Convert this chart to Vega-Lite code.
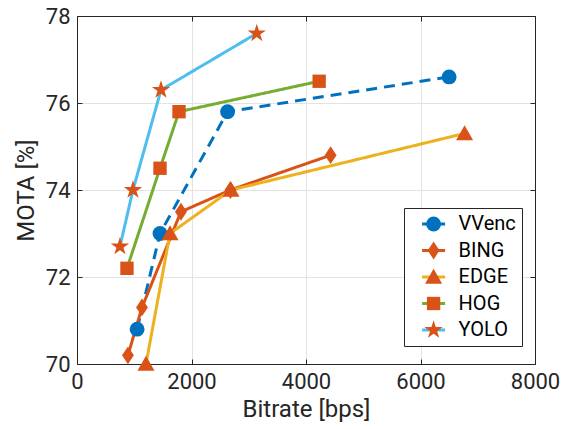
{
  "$schema": "https://vega.github.io/schema/vega-lite/v6.json",
  "width": 458,
  "height": 348,
  "autosize": {"type": "none"},
  "padding": {"left": 77, "top": 16, "right": 45, "bottom": 65},
  "background": "white",
  "config": {
    "font": "Roboto",
    "view": {"stroke": "#262626", "strokeWidth": 1},
    "axis": {
      "domainColor": "#262626",
      "tickColor": "#262626",
      "labelColor": "#262626",
      "titleColor": "#262626",
      "labelFont": "Roboto",
      "titleFont": "Roboto",
      "labelFontSize": 22,
      "titleFontSize": 24,
      "titleFontWeight": "normal",
      "gridColor": "#e3e3e3",
      "gridWidth": 1,
      "tickSize": -5,
      "tickWidth": 1,
      "labelPadding": 12
    }
  },
  "resolve": {"axis": {"x": "independent", "y": "independent"}},
  "data": {
    "values": [
      {"method": "VVenc", "marker": "VVenc", "bitrate": 1050, "mota": 70.8},
      {"method": "VVenc", "marker": "VVenc", "bitrate": 1450, "mota": 73.0},
      {"method": "VVenc", "marker": "VVenc", "bitrate": 2630, "mota": 75.8},
      {"method": "VVenc", "marker": "VVenc", "bitrate": 6500, "mota": 76.6},
      {"method": "BING", "marker": "BING", "bitrate": 890, "mota": 70.2},
      {"method": "BING", "marker": "BING", "bitrate": 1135, "mota": 71.3},
      {"method": "BING", "marker": "BING", "bitrate": 1816, "mota": 73.5},
      {"method": "BING", "marker": "BING", "bitrate": 2680, "mota": 74.0},
      {"method": "BING", "marker": "BING", "bitrate": 4430, "mota": 74.8},
      {"method": "EDGE", "marker": "EDGE", "bitrate": 1205, "mota": 70.0},
      {"method": "EDGE", "marker": "EDGE", "bitrate": 1625, "mota": 73.0},
      {"method": "EDGE", "marker": "EDGE", "bitrate": 2690, "mota": 74.0},
      {"method": "EDGE", "marker": "EDGE", "bitrate": 6770, "mota": 75.3},
      {"method": "HOG", "marker": "HOG", "bitrate": 873, "mota": 72.2},
      {"method": "HOG", "marker": "HOG", "bitrate": 1450, "mota": 74.5},
      {"method": "HOG", "marker": "HOG", "bitrate": 1782, "mota": 75.8},
      {"method": "HOG", "marker": "HOG", "bitrate": 4230, "mota": 76.5},
      {"method": "YOLO", "marker": "YOLO", "bitrate": 750, "mota": 72.7},
      {"method": "YOLO", "marker": "YOLO", "bitrate": 978, "mota": 74.0},
      {"method": "YOLO", "marker": "YOLO", "bitrate": 1467, "mota": 76.3},
      {"method": "YOLO", "marker": "YOLO", "bitrate": 3140, "mota": 77.6}
    ]
  },
  "layer": [
    {
      "mark": {"type": "line", "strokeWidth": 3},
      "encoding": {
        "x": {
          "field": "bitrate",
          "type": "quantitative",
          "scale": {"domain": [0, 8000], "nice": false},
          "axis": {"title": "Bitrate [bps]", "values": [0, 2000, 4000, 6000, 8000], "format": "d", "labelFlush": false, "titlePadding": 5}
        },
        "y": {
          "field": "mota",
          "type": "quantitative",
          "scale": {"domain": [70, 78], "nice": false, "zero": false},
          "axis": {"title": "MOTA [%]", "values": [70, 72, 74, 76, 78], "format": "d", "titlePadding": 7}
        },
        "color": {
          "field": "method",
          "type": "nominal",
          "scale": {"domain": ["VVenc", "BING", "EDGE", "HOG", "YOLO"], "range": ["#0072BD", "#D95319", "#EDB120", "#77AC30", "#4DBEEE"]},
          "legend": {
            "title": null,
            "orient": "none",
            "legendX": 327,
            "legendY": 192,
            "padding": 6,
            "symbolType": "M-1.55,0L1.55,0",
            "symbolSize": 220,
            "symbolStrokeWidth": 3,
            "symbolOffset": 13.6,
            "labelOffset": 15,
            "labelFont": "Roboto",
            "labelFontSize": 20,
            "labelColor": "#000000",
            "rowPadding": 6.5,
            "strokeColor": "#262626",
            "fillColor": "white"
          }
        },
        "strokeDash": {
          "field": "method",
          "type": "nominal",
          "scale": {"domain": ["VVenc", "BING", "EDGE", "HOG", "YOLO"], "range": [[11, 7], [1, 0], [1, 0], [1, 0], [1, 0]]},
          "legend": null
        }
      }
    },
    {
      "mark": {"type": "point", "filled": true, "size": 220, "opacity": 1, "strokeWidth": 0},
      "encoding": {
        "x": {
          "field": "bitrate",
          "type": "quantitative",
          "axis": {"orient": "top", "title": null, "labels": false, "grid": false, "values": [0, 2000, 4000, 6000, 8000]}
        },
        "y": {
          "field": "mota",
          "type": "quantitative",
          "axis": {"orient": "right", "title": null, "labels": false, "grid": false, "values": [70, 72, 74, 76, 78]}
        },
        "shape": {
          "field": "marker",
          "type": "nominal",
          "scale": {"domain": ["YOLO", "HOG", "EDGE", "BING", "VVenc"], "range": ["M0,-1.3L0.292,-0.402L1.236,-0.402L0.472,0.154L0.764,1.052L0,0.496L-0.764,1.052L-0.472,0.154L-1.236,-0.402L-0.292,-0.402Z", "M-0.9,-0.9L0.9,-0.9L0.9,0.9L-0.9,0.9Z", "M0,-1.1L1.15,0.9L-1.15,0.9Z", "M0,-1.2L0.8,0L0,1.2L-0.8,0Z", "circle"]},
          "legend": {
            "title": null,
            "values": ["VVenc", "BING", "EDGE", "HOG", "YOLO"],
            "orient": "none",
            "legendX": 327,
            "legendY": 192,
            "padding": 6,
            "symbolSize": 220,
            "symbolStrokeWidth": 0,
            "symbolOffset": 13.6,
            "labelOffset": 15,
            "labelFont": "Roboto",
            "labelFontSize": 20,
            "labelOpacity": 0,
            "rowPadding": 6.5
          }
        },
        "fill": {
          "field": "marker",
          "type": "nominal",
          "scale": {"domain": ["YOLO", "HOG", "EDGE", "BING", "VVenc"], "range": ["#D95319", "#D95319", "#D95319", "#D95319", "#0072BD"]},
          "legend": {
            "title": null,
            "values": ["VVenc", "BING", "EDGE", "HOG", "YOLO"],
            "orient": "none",
            "legendX": 327,
            "legendY": 192,
            "padding": 6,
            "symbolSize": 220,
            "symbolStrokeWidth": 0,
            "symbolOffset": 13.6,
            "labelOffset": 15,
            "labelFont": "Roboto",
            "labelFontSize": 20,
            "labelOpacity": 0,
            "rowPadding": 6.5
          }
        }
      }
    }
  ]
}
